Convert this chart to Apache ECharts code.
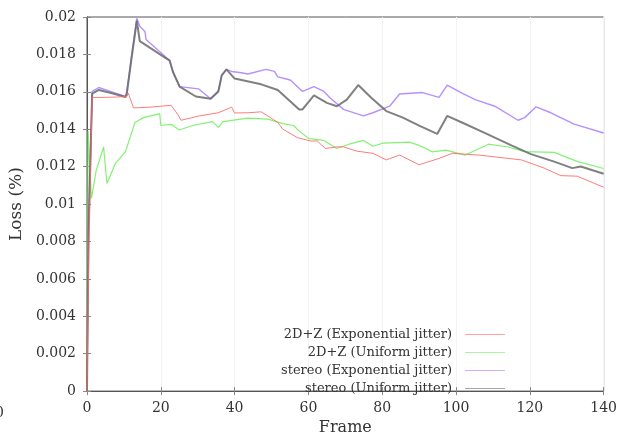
<!DOCTYPE html>
<html lang="en">
<head>
    <meta charset="UTF-8">
    <title>Loss per frame</title>
    <script src='https://cdn.jsdelivr.net/npm/echarts@6/dist/echarts.min.js'></script>
</head>
<body style="margin: 0">
<div id="chart" style="width: 620px;height: 441px"></div>
</body>

<script>
    // values, frame -> loss
    let seriesNames = ['2D+Z (Exponential jitter)', '2D+Z (Uniform jitter)',
                       'stereo (Exponential jitter)', 'stereo (Uniform jitter)'];

    let redFrames = [0, 0.5, 1.4, 4, 8, 10.8, 11.2, 12.6, 17, 22.8, 24.6, 25.5, 30.4, 35.6, 39.2, 40,
                     43.6, 47.2, 49, 51.7, 53, 57, 60.6, 62.4, 64.6, 67.7, 69.5, 73.1, 77.5, 81.1,
                     84.7, 90, 95.4, 99, 106.1, 111.4, 117.7, 123.9, 128.4, 132.8, 140];
    let redLoss = [0, 0.0075, 0.0157, 0.0157, 0.01572, 0.01575, 0.01593, 0.01514, 0.01518, 0.01528,
                   0.01479, 0.01448, 0.01471, 0.01488, 0.01518, 0.01487, 0.01488, 0.01493, 0.01471,
                   0.01436, 0.01401, 0.01355, 0.01337, 0.01337, 0.01297, 0.01306, 0.01306, 0.01283,
                   0.01271, 0.01236, 0.01262, 0.0121, 0.01244, 0.01271, 0.01262, 0.0125, 0.01236,
                   0.01192, 0.01152, 0.01149, 0.0109];

    let greenFrames = [0, 0.3, 0.6, 1.2, 2.5, 4.5, 5.4, 7.7, 10.4, 13, 15.3, 19.7, 20, 22.8, 25, 28.6,
                       34, 35.6, 36.9, 43.6, 49, 53, 56, 57.5, 60.1, 64.2, 67.7, 71, 74.9, 77.5,
                       80.2, 87.3, 90, 93.6, 97.2, 102.5, 108.8, 114.1, 118.6, 126.6, 132.8, 140];
    let greenLoss = [0, 0.0139, 0.0125, 0.0103, 0.0118, 0.01305, 0.0111, 0.01217, 0.01279, 0.01436,
                     0.01462, 0.01483, 0.0142, 0.01426, 0.01396, 0.0142, 0.01441, 0.0141, 0.01441,
                     0.01459, 0.01454, 0.0143, 0.0142, 0.0139, 0.0135, 0.0134, 0.01297, 0.0132,
                     0.0134, 0.01309, 0.01326, 0.01331, 0.01314, 0.01279, 0.01288, 0.01262, 0.0132,
                     0.01305, 0.0128, 0.01276, 0.01228, 0.0119];

    let purpleFrames = [0, 0.4, 1.4, 3.2, 6.3, 10.4, 10.8, 12, 13.5, 14.3, 15.7, 16, 22.4, 23.3, 25.1,
                        30.2, 33.5, 35.6, 36.5, 37.8, 39.2, 41.8, 43.6, 48.5, 50.8, 51.7, 54.3, 55.2,
                        58.4, 61.5, 64.2, 65.9, 69.5, 74.9, 77.5, 82, 84.7, 90.9, 95.4, 97.6, 101.6,
                        105.2, 110.5, 116.8, 118.6, 121.7, 125.7, 132, 140];
    let purpleLoss = [0, 0.0087, 0.01602, 0.01623, 0.01602, 0.01575, 0.01602, 0.0178, 0.01993, 0.0195,
                      0.01923, 0.0188, 0.01767, 0.01706, 0.01628, 0.01616, 0.01563, 0.01605, 0.01688,
                      0.0172, 0.01709, 0.01702, 0.01695, 0.0172, 0.01709, 0.0168, 0.01667, 0.01662,
                      0.01602, 0.01628, 0.01602, 0.01567, 0.01506, 0.01471, 0.01488, 0.01523, 0.01588,
                      0.01596, 0.0157, 0.01636, 0.01593, 0.01558, 0.01523, 0.01448, 0.01462, 0.0152,
                      0.01488, 0.01427, 0.0138];

    let grayFrames = [0, 0.4, 1.4, 3.2, 6.3, 10.4, 10.8, 12, 13.5, 14.3, 22.4, 23.3, 25.1, 29.5, 33.5,
                      35.6, 36.5, 37.8, 40, 47.2, 51.7, 57.5, 58.4, 61.5, 65, 67.7, 70.4, 73.5, 77.1,
                      81.1, 85.6, 90, 94.9, 97.6, 101.6, 107.9, 115, 120.3, 126.6, 131.5, 133.8, 140];
    let grayLoss = [0, 0.0085, 0.0159, 0.0161, 0.01595, 0.01572, 0.0159, 0.0177, 0.0198, 0.01871,
                    0.01767, 0.01706, 0.01628, 0.01575, 0.01563, 0.01602, 0.01688, 0.0172, 0.01671,
                    0.0164, 0.0161, 0.01506, 0.01506, 0.01581, 0.01541, 0.01523, 0.01558, 0.01636,
                    0.01567, 0.01497, 0.01462, 0.01419, 0.01375, 0.01471, 0.01436, 0.01379, 0.01314,
                    0.01267, 0.01227, 0.01192, 0.01201, 0.01162];

    let colors = ['#ff6464', '#6cf05a', '#a97cff', '#6a6a6a'];
    let widths = [1, 1.2, 1.4, 2];

    function pairs(xs, ys) {
        return xs.map((x, i) => [x, ys[i]]);
    }

    let allData = [
        pairs(redFrames, redLoss),
        pairs(greenFrames, greenLoss),
        pairs(purpleFrames, purpleLoss),
        pairs(grayFrames, grayLoss)
    ];

    let font = 'DejaVu Serif';
    let chart = echarts.init(document.getElementById('chart'));

    let series = [];
    for (let i = 0; i < seriesNames.length; i++) {
        series.push({
            name: seriesNames[i],
            type: 'line',
            data: allData[i],
            showSymbol: false,
            color: colors[i],
            lineStyle: { width: widths[i], color: colors[i], opacity: 0.85 },
            z: i === 3 ? 3 : 4 - i
        });
    }

    let option = {
        animation: false,
        backgroundColor: '#ffffff',
        grid: {
            left: 87, right: 10, top: 17, bottom: 41,
            show: true, borderColor: '#555', borderWidth: 1
        },
        legend: {
            orient: 'vertical',
            left: 276,
            top: 323,
            align: 'right',
            itemGap: 5,
            itemWidth: 40,
            itemHeight: 1,
            icon: 'rect',
            itemStyle: { opacity: 0.6 },
            textStyle: {
                fontFamily: font, fontSize: 13, color: '#333',
                width: 180, align: 'right', padding: [0, 8, 0, 0]
            },
            data: seriesNames
        },
        xAxis: [
            {
                type: 'value', min: 0, max: 140, interval: 20,
                name: 'Frame', nameLocation: 'middle', nameGap: 26,
                nameTextStyle: { fontFamily: font, fontSize: 16, color: '#333' },
                axisLine: { lineStyle: { color: '#555' } },
                axisTick: { inside: true, length: 4, lineStyle: { color: '#888' } },
                axisLabel: { fontFamily: font, fontSize: 14, color: '#333', margin: 10 },
                splitLine: { show: true, lineStyle: { color: '#f3f3f3' } }
            },
            {
                type: 'value', min: 0, max: 140, interval: 20, position: 'top',
                axisLine: { lineStyle: { color: '#555' } },
                axisTick: { inside: true, length: 4, lineStyle: { color: '#888' } },
                axisLabel: { show: false },
                splitLine: { show: false }
            }
        ],
        yAxis: [
            {
                type: 'value', min: 0, max: 0.02, interval: 0.002,
                name: 'Loss (%)', nameLocation: 'middle', nameGap: 51,
                nameTextStyle: { fontFamily: font, fontSize: 17, color: '#333' },
                axisLine: { show: true, lineStyle: { color: '#555' } },
                axisTick: { show: true, inside: true, length: 4, lineStyle: { color: '#888' } },
                axisLabel: { fontFamily: font, fontSize: 14, color: '#333', margin: 11 },
                splitLine: { show: false }
            },
            {
                type: 'value', min: 0, max: 0.02, interval: 0.002, position: 'right',
                axisLine: { show: true, lineStyle: { color: '#555' } },
                axisTick: { show: true, inside: true, length: 4, lineStyle: { color: '#888' } },
                axisLabel: { show: false },
                splitLine: { show: false }
            }
        ],
        graphic: [
            {
                type: 'text', left: -5, top: 406,
                style: { text: '0', font: '14px "DejaVu Serif"', fill: '#333' }
            }
        ],
        series: series
    };

    chart.setOption(option);
</script>

</html>
